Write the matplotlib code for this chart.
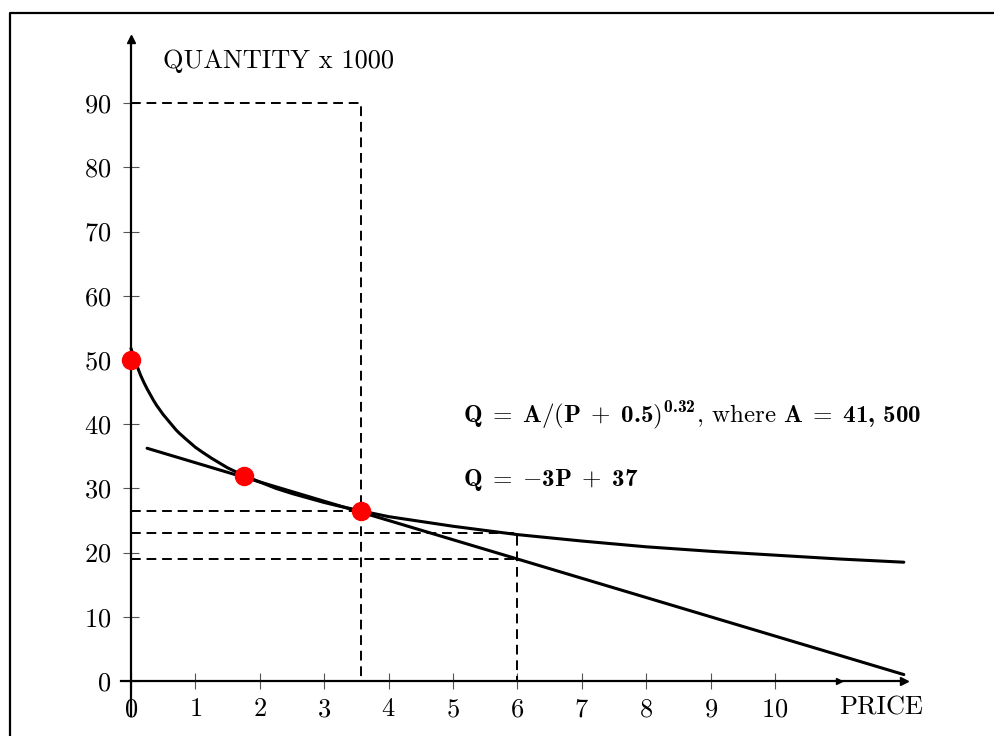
import matplotlib
matplotlib.use("Agg")
import matplotlib.pyplot as plt
from matplotlib.lines import Line2D

# -----------------------------
# DATI
# -----------------------------
price_curve = [0, 0.025, 0.05, 0.1, 0.15, 0.2, 0.25, 0.3, 0.35, 0.4, 0.5, 0.6,
               0.7, 0.75, 0.85, 1, 1.1, 1.25, 1.4, 1.5, 1.75, 2, 2.25, 2.5,
               3, 3.25, 3.57, 4, 5, 6, 7, 8, 9, 10, 11, 12]
qty_curve = [51.8, 51.0, 50.2, 48.9, 47.6, 46.5, 45.5, 44.6, 43.7, 42.9, 41.5,
             40.3, 39.1, 38.6, 37.7, 36.4, 35.7, 34.7, 33.8, 33.2, 32.0, 31.0,
             30.0, 29.2, 27.8, 27.2, 26.5, 25.6, 24.1, 22.8, 21.8, 20.9, 20.2,
             19.6, 19.0, 18.5]

price_line = [0.25, 12]
qty_line = [36.25, 1]

pts_price = [0, 1.75, 3.57]
pts_qty = [50, 32, 26.5]

# linee tratteggiate di riferimento
p_opt = 3.57
q_top = 90
p_six = 6
q_opt = 26.5
q_curve_six = 23
q_line_six = 19

x_ticks = list(range(0, 11))
y_ticks = list(range(0, 100, 10))

# -----------------------------
# STILE
# -----------------------------
plt.rcParams["font.family"] = "cmr10"
plt.rcParams["mathtext.fontset"] = "custom"
plt.rcParams["mathtext.rm"] = "cmr10"
plt.rcParams["mathtext.bf"] = "cmb10"
plt.rcParams["mathtext.it"] = "cmmi10"
plt.rcParams["axes.formatter.use_mathtext"] = True

fig = plt.figure(figsize=(9.95, 7.36), dpi=100)
ax = fig.add_axes([0, 0, 1, 1])
ax.set_xlim(-2.034, 13.416)
ax.set_ylim(-8.57, 106.07)

for s in ["top", "right"]:
    ax.spines[s].set_visible(False)
ax.spines["left"].set_position(("data", 0))
ax.spines["bottom"].set_position(("data", 0))
ax.spines["left"].set_bounds(-5.5, 100)
ax.spines["bottom"].set_bounds(-0.15, 12)
ax.spines["left"].set_linewidth(1.6)
ax.spines["bottom"].set_linewidth(1.6)

ax.set_xticks(x_ticks)
ax.set_yticks(y_ticks)
ax.tick_params(direction="inout", length=12, width=0.8, color="#555555",
               labelsize=19, pad=6)
ax.tick_params(axis="y", pad=8)
ax.patch.set_visible(False)

# frecce degli assi
ax.plot([0], [100], marker="^", color="black", markersize=6, clip_on=False)
ax.plot([12], [0], marker=">", color="black", markersize=6, clip_on=False)
ax.plot([11], [0], marker=">", color="black", markersize=5, clip_on=False)

# -----------------------------
# LINEE TRATTEGGIATE
# -----------------------------
dash = dict(color="black", lw=1.4, ls=(0, (5, 3)))
ax.plot([0, p_opt, p_opt], [q_top, q_top, 0], **dash)
ax.plot([0, p_opt], [q_opt, q_opt], **dash)
ax.plot([0, p_six, p_six], [q_curve_six, q_curve_six, 0], **dash)
ax.plot([0, p_six], [q_line_six, q_line_six], **dash)

# -----------------------------
# CURVE
# -----------------------------
ax.plot(price_curve, qty_curve, color="black", lw=2.2,
        solid_capstyle="round", solid_joinstyle="round")
ax.plot(price_line, qty_line, color="black", lw=2.2, solid_capstyle="round")
ax.plot(pts_price, pts_qty, "o", color="red", markersize=13, zorder=5)

# -----------------------------
# TESTI
# -----------------------------
ax.text(0.5, 96.5, "QUANTITY x 1000", fontsize=19, va="center", ha="left")
ax.text(11.0, -4.1, "PRICE", fontsize=19, va="center", ha="left")
ax.text(5.15, 41.3,
        r"$\mathbf{Q}\;=\;\mathbf{A}/(\mathbf{P}\;+\;\mathbf{0.5})"
        r"^{\mathbf{0.32}}$, where $\mathbf{A}\;=\;\mathbf{41,\,500}$",
        fontsize=18, va="center", ha="left")
ax.text(5.15, 31.3, r"$\mathbf{Q}\;=\;{-}\mathbf{3P}\;+\;\mathbf{37}$",
        fontsize=18, va="center", ha="left")

# cornice della figura
fig.add_artist(Line2D([0.01, 0.01, 1.0], [0.0, 0.982, 0.982],
                      transform=fig.transFigure, color="black", lw=1.6))

fig.savefig("out.png", dpi=100)
